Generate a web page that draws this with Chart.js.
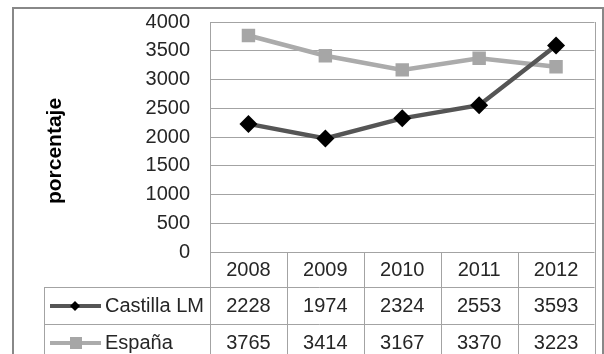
<!DOCTYPE html>
<html>
<head>
<meta charset="utf-8">
<script src="https://cdn.jsdelivr.net/npm/chart.js@4"></script>
<style>
html,body{margin:0;padding:0;background:#fff;}
#wrap{width:604px;height:354px;position:relative;}
</style>
</head>
<body>
<div id="wrap"><canvas id="c" width="604" height="354"></canvas></div>
<script>
const years = ['2008', '2009', '2010', '2011', '2012'];
const castillaLM = [2228, 1974, 2324, 2553, 3593];
const espana = [3765, 3414, 3167, 3370, 3223];
const seriesNames = ['Castilla LM', 'España'];
const yTicksMax = 4000;
const yTickStep = 500;
const axisTitle = 'porcentaje';

const FONT = '"Liberation Sans", Arial, sans-serif';
const TXT = '#262626';
const GRID = '#a3a3a3';
const TARGET = { top: 22, bottom: 252, left: 210, right: 602 };

const tablePlugin = {
  id: 'tablePlugin',
  afterDraw(chart) {
    const ctx = chart.ctx;
    const a = chart.chartArea;
    const xs = chart.scales.x;
    const n = years.length;
    const w = (a.right - a.left) / n;
    const rowTop = a.bottom;
    const r1 = 287, r2 = 324, bottom = 362;
    const legendLeft = 44;
    ctx.save();
    ctx.strokeStyle = '#888888';
    ctx.lineWidth = 2;
    ctx.beginPath();
    ctx.moveTo(13, 360); ctx.lineTo(13, 8); ctx.lineTo(603, 8); ctx.lineTo(603, 360);
    ctx.stroke();
    ctx.strokeStyle = GRID;
    ctx.lineWidth = 1;
    ctx.beginPath();
    for (let k = 0; k <= n; k++) {
      const x = Math.round(a.left + k * w) + 0.5;
      ctx.moveTo(x, k === 0 || k === n ? a.top : rowTop);
      ctx.lineTo(x, bottom);
    }
    ctx.moveTo(legendLeft + 0.5, r1); ctx.lineTo(legendLeft + 0.5, bottom);
    ctx.moveTo(legendLeft, r1 + 0.5); ctx.lineTo(a.right, r1 + 0.5);
    ctx.moveTo(legendLeft, r2 + 0.5); ctx.lineTo(a.right, r2 + 0.5);
    ctx.stroke();
    ctx.fillStyle = TXT;
    ctx.font = '20px ' + FONT;
    ctx.textAlign = 'center';
    ctx.textBaseline = 'middle';
    const rows = [castillaLM, espana];
    const rowY = [306, 343];
    for (let i = 0; i < n; i++) {
      const cx = xs.getPixelForValue(i);
      ctx.fillText(years[i], cx, 270);
      rows.forEach((r, j) => ctx.fillText(String(r[i]), cx, rowY[j]));
    }
    ctx.textAlign = 'left';
    const ds = chart.data.datasets;
    rowY.forEach((y, j) => {
      ctx.strokeStyle = ds[j].borderColor;
      ctx.lineWidth = 4;
      ctx.beginPath();
      ctx.moveTo(50, y); ctx.lineTo(101, y);
      ctx.stroke();
      ctx.fillStyle = ds[j].pointBackgroundColor;
      ctx.beginPath();
      if (j === 0) {
        ctx.moveTo(75, y - 5); ctx.lineTo(80, y); ctx.lineTo(75, y + 5); ctx.lineTo(70, y);
        ctx.closePath();
      } else {
        ctx.rect(70, y - 6, 12, 12);
      }
      ctx.fill();
      ctx.fillStyle = TXT;
      ctx.fillText(seriesNames[j], 105, y);
    });
    ctx.translate(55, 151);
    ctx.rotate(-Math.PI / 2);
    ctx.textAlign = 'center';
    ctx.font = 'bold 21px ' + FONT;
    ctx.fillStyle = '#000';
    ctx.fillText(axisTitle, 0, 0);
    ctx.restore();
  }
};

const chart = new Chart(document.getElementById('c'), {
  type: 'line',
  data: {
    labels: years,
    datasets: [
      {
        label: seriesNames[0],
        data: castillaLM,
        borderColor: '#555555',
        borderWidth: 4.5,
        pointStyle: 'rectRot',
        pointRadius: 9,
        pointBackgroundColor: '#000000',
        pointBorderColor: '#000000',
        pointBorderWidth: 0,
        tension: 0
      },
      {
        label: seriesNames[1],
        data: espana,
        borderColor: '#ababab',
        borderWidth: 4.5,
        pointStyle: 'rect',
        pointRadius: 9.5,
        pointBackgroundColor: '#a6a6a6',
        pointBorderColor: '#a6a6a6',
        pointBorderWidth: 0,
        tension: 0
      }
    ]
  },
  options: {
    responsive: false,
    animation: false,
    events: [],
    layout: { padding: { left: 0, right: 2, top: 22, bottom: 102 } },
    plugins: { legend: { display: false }, tooltip: { enabled: false } },
    scales: {
      x: { display: false, offset: true },
      y: {
        min: 0,
        max: yTicksMax,
        afterFit(s) { s.width = 210; },
        ticks: { stepSize: yTickStep, color: TXT, font: { family: FONT, size: 20 }, padding: 0,
                 callback: v => String(v) },
        grid: { color: GRID, lineWidth: 1, drawTicks: true, tickLength: 20, tickColor: 'rgba(0,0,0,0)' },
        border: { display: true, color: GRID, width: 1 }
      }
    }
  },
  plugins: [tablePlugin]
});

for (let it = 0; it < 4; it++) {
  const a = chart.chartArea;
  const p = chart.options.layout.padding;
  const dt = TARGET.top - a.top, db = a.bottom - TARGET.bottom, dr = a.right - TARGET.right;
  if (Math.abs(dt) < 0.5 && Math.abs(db) < 0.5 && Math.abs(dr) < 0.5) break;
  p.top = Math.max(0, p.top + dt);
  p.bottom = Math.max(0, p.bottom + db);
  p.right = Math.max(0, p.right + dr);
  chart.update();
}
</script>
</body>
</html>
